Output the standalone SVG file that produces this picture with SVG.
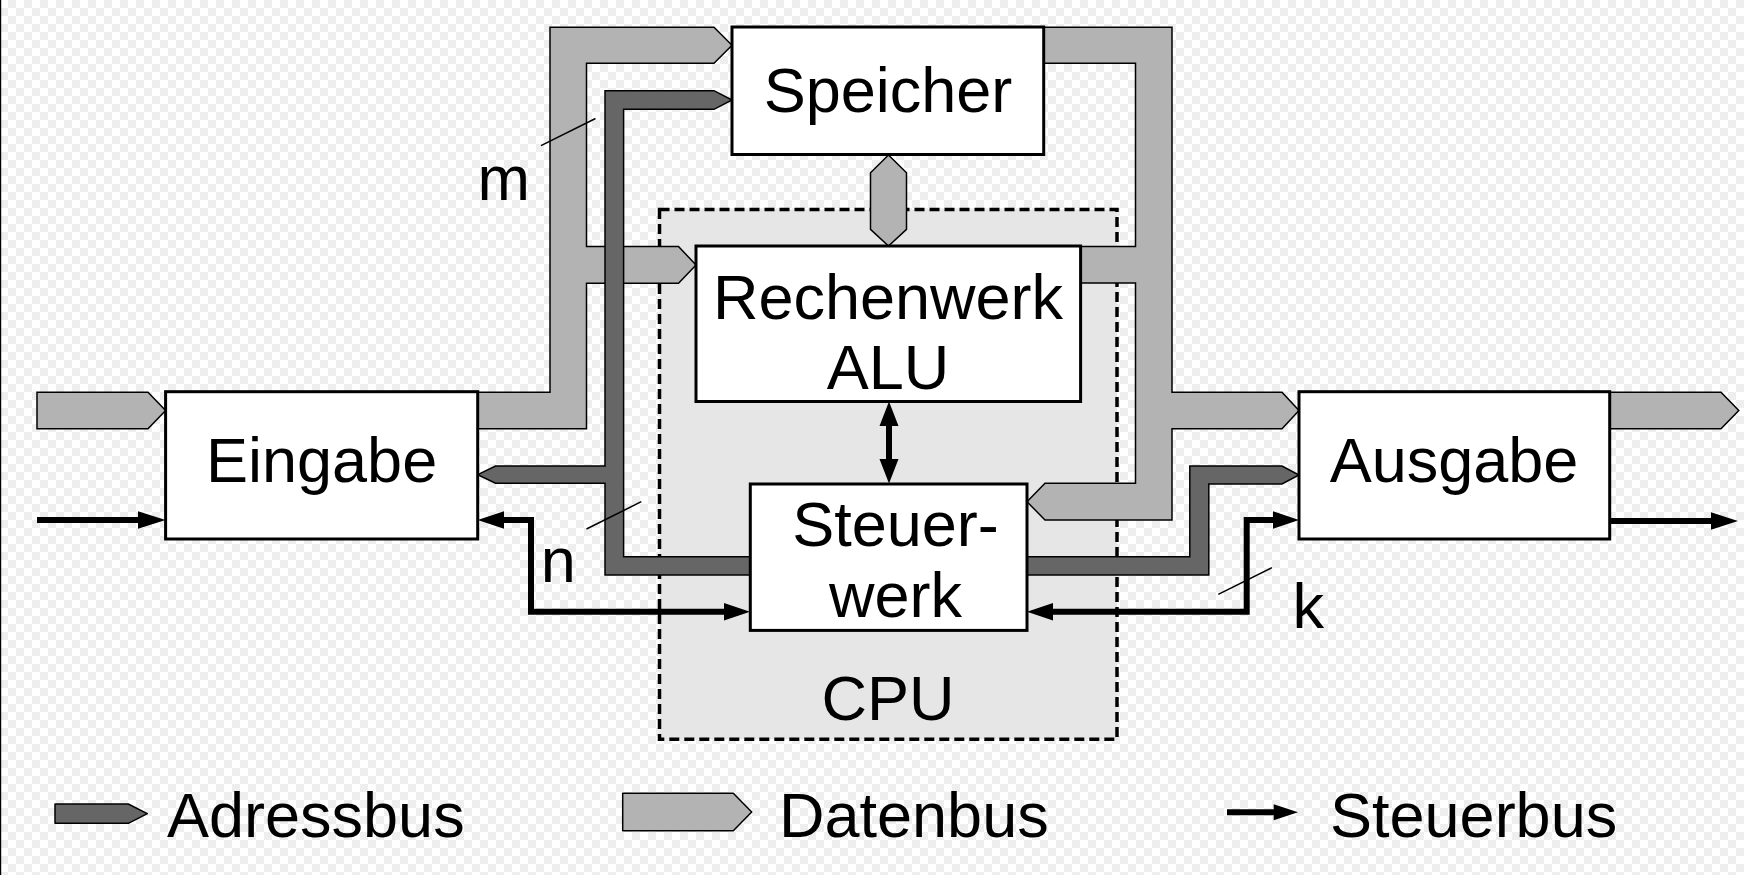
<svg xmlns="http://www.w3.org/2000/svg" width="1744" height="875" viewBox="0 0 1744 875">
<defs>
<pattern id="checker" patternUnits="userSpaceOnUse" width="16" height="16">
<rect width="16" height="16" fill="#ffffff"/>
<rect x="8" y="0" width="8" height="8" fill="#eeeeee"/>
<rect x="0" y="8" width="8" height="8" fill="#eeeeee"/>
</pattern>
<style>
.box{fill:#ffffff;stroke:#000000;stroke-width:3}
.data{fill:#b3b3b3;stroke:#000000;stroke-width:1.5;stroke-linejoin:miter}
.addr{fill:#666666;stroke:#000000;stroke-width:1.5;stroke-linejoin:miter}
.ctrl{fill:none;stroke:#000000;stroke-width:6;stroke-linejoin:miter;stroke-linecap:butt}
.head{fill:#000000;stroke:none}
.tick{stroke:#000000;stroke-width:1.5;fill:none}
.lbl{font-family:"Liberation Sans",Arial,sans-serif;font-size:63px;fill:#000000;text-anchor:middle}
.leg{font-family:"Liberation Sans",Arial,sans-serif;font-size:63px;fill:#000000}
.cpu{fill:#e6e6e6;stroke:#000000;stroke-width:3.5;stroke-dasharray:10 5}
</style>
</defs>
<g id="background">
<rect width="1744" height="875" fill="url(#checker)"/>
<rect x="0" y="0" width="1.2" height="875" fill="#000000"/>
</g>
<g id="cpu">
<rect class="cpu" x="659.5" y="209.5" width="457.5" height="529.8"/>
<text class="lbl" x="888" y="719.6">CPU</text>
</g>
<g id="connectors">
<path class="data" d="M37 392.3 H148 L165.6 410.5 L148 428.7 H37 Z"/>
<path class="data" d="M1609.7 392.3 H1721 L1738.8 410.5 L1721 428.7 H1609.7 Z"/>
<path class="data" d="M477.7 392.3 H550 V27.3 H714 L732 45.3 L714 63.3 H586.5 V246.5 H678.5 L696 265 L678.5 283.3 H586.5 V428.7 H477.7 Z"/>
<path class="data" d="M1043.7 27.3 H1172 V392.3 H1282 L1299 410.5 L1282 428.7 H1172 V520 H1045 L1027 501.7 L1045 483.3 H1135.5 V283 H1080 V246.5 H1135.5 V63.3 H1043.7 Z"/>
<path class="data" d="M888.5 155 L906.5 172.7 V229.3 L888.5 246 L870.5 229.3 V172.7 Z"/>
<path class="addr" d="M732 100 L714 90.7 H605 V466 H495.5 L477.7 474.7 L495.5 483.3 H605 V575 H751 V556.7 H623.6 V109.3 H714 Z"/>
<path class="addr" d="M1027 556.7 H1189.8 V466 H1282 L1299 475 L1282 484 H1208.8 V575 H1027 Z"/>
<polyline class="ctrl" points="37,520 140,520"/>
<polygon class="head" points="138,511.3 165.6,520 138,528.7"/>
<polyline class="ctrl" points="503,520 531,520 531,611.7 726,611.7"/>
<polygon class="head" points="504,511.3 477.7,520 504,528.7"/>
<polygon class="head" points="724,603 750,611.7 724,620.4"/>
<polyline class="ctrl" points="1051,611.7 1246.7,611.7 1246.7,520 1275,520"/>
<polygon class="head" points="1053,603 1027,611.7 1053,620.4"/>
<polygon class="head" points="1273,511.3 1299,520 1273,528.7"/>
<polyline class="ctrl" points="1609.7,521 1713,521"/>
<polygon class="head" points="1711,512.3 1738,521 1711,529.7"/>
<polyline class="ctrl" points="889,422 889,463"/>
<polygon class="head" points="879.5,426 889,401.5 898.5,426"/>
<polygon class="head" points="879.5,459 889,483.5 898.5,459"/>
</g>
<g id="speicher">
<rect class="box" x="732" y="27" width="311.7" height="127.5"/>
<text class="lbl" x="888" y="111.7">Speicher</text>
</g>
<g id="rechenwerk">
<rect class="box" x="696" y="246" width="384.6" height="155.5"/>
<text class="lbl" x="888" y="318.6">Rechenwerk</text>
<text class="lbl" x="888" y="389.3">ALU</text>
</g>
<g id="steuerwerk">
<rect class="box" x="750.3" y="484" width="276.7" height="146.4"/>
<text class="lbl" x="895.5" y="546.4">Steuer-</text>
<text class="lbl" x="895.5" y="617">werk</text>
</g>
<g id="eingabe">
<rect class="box" x="165.6" y="391.7" width="312.1" height="147.3"/>
<text class="lbl" x="321.6" y="481.7">Eingabe</text>
</g>
<g id="ausgabe">
<rect class="box" x="1299" y="391.7" width="310.7" height="147.3"/>
<text class="lbl" x="1454" y="481.7">Ausgabe</text>
</g>
<g id="bus-widths">
<line class="tick" x1="541" y1="145.7" x2="595.5" y2="118.5"/>
<text class="lbl" x="503.7" y="200">m</text>
<line class="tick" x1="586.5" y1="529" x2="641.3" y2="501.7"/>
<text class="lbl" x="558.3" y="581.7">n</text>
<line class="tick" x1="1218.3" y1="594.3" x2="1271.9" y2="567.7"/>
<text class="lbl" x="1308.3" y="628.3">k</text>
</g>
<g id="legend">
<path class="addr" style="stroke-linejoin:round" d="M55 804 H128.3 L147.3 813.6 L128.3 823.3 H55 Z"/>
<text class="leg" x="167" y="836.7">Adressbus</text>
<path class="data" style="stroke-linejoin:round" d="M622.7 793.3 H733.3 L751.7 812 L733.3 830.7 H622.7 Z"/>
<text class="leg" x="779" y="836.7">Datenbus</text>
<polyline class="ctrl" points="1227,812.3 1276,812.3"/>
<polygon class="head" points="1273.7,804.3 1298,812.3 1273.7,820.3"/>
<text class="leg" x="1330" y="836.7">Steuerbus</text>
</g>
</svg>
